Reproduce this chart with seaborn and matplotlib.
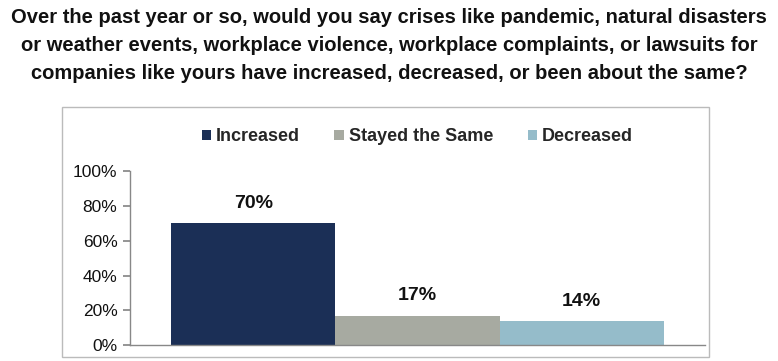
import matplotlib
matplotlib.use("Agg")
import matplotlib.pyplot as plt
import seaborn as sns
import pandas as pd
from matplotlib.patches import Rectangle
from matplotlib.ticker import FuncFormatter

# data
responses = ["Increased", "Stayed the Same", "Decreased"]
shares = [70, 17, 14]
colors = ["#1B2F56", "#A7AAA1", "#95BCCA"]

df = pd.DataFrame({"group": [""] * len(responses), "response": responses, "share": shares})

sns.set_theme(style="white")
plt.rcParams["font.family"] = ["Liberation Sans", "DejaVu Sans"]

fig = plt.figure(figsize=(7.78, 3.61), dpi=100)
ax = fig.add_axes([0.167, 0.044, 0.739, 0.482])

sns.barplot(data=df, x="group", y="share", hue="response", hue_order=responses,
            palette=colors, width=0.857, saturation=1, linewidth=0, ax=ax, legend=True)

for c in ax.containers:
    ax.bar_label(c, labels=[f"{v:.0f}%" for v in c.datavalues], padding=8,
                 fontsize=14, fontweight="bold", color="#111111")

ax.set_ylim(0, 100)
ax.set_xlim(-0.5, 0.5)
ax.set_yticks([0, 20, 40, 60, 80, 100])
ax.yaxis.set_major_formatter(FuncFormatter(lambda v, p: f"{v:.0f}%"))
ax.tick_params(axis="y", left=True, length=5, color="#888888", labelsize=12.5, labelcolor="#111111", pad=4)
ax.set_xticks([])
ax.set_xlabel("")
ax.set_ylabel("")
sns.despine(ax=ax, top=True, right=True)
for s in ["left", "bottom"]:
    ax.spines[s].set_color("#888888")
    ax.spines[s].set_linewidth(1)

leg = ax.legend(loc="upper center", bbox_to_anchor=(0.5, 1.34), ncol=3, frameon=False,
                handlelength=0.5, handleheight=0.5, handletextpad=0.3, columnspacing=1.9,
                prop={"weight": "bold", "size": 13})

# outer chart frame
fig.patches.append(Rectangle((62 / 778, 1 - 357 / 361), (709 - 62) / 778, (357 - 107) / 361,
                             transform=fig.transFigure, fill=False, edgecolor="#BBBBBB", linewidth=1))

fig.text(0.5, 0.978,
         "Over the past year or so, would you say crises like pandemic, natural disasters\n"
         "or weather events, workplace violence, workplace complaints, or lawsuits for\n"
         "companies like yours have increased, decreased, or been about the same?",
         ha="center", va="top", fontsize=14.5, fontweight="bold", linespacing=1.6,
         color="#111111")

fig.savefig("out.png", dpi=100)
